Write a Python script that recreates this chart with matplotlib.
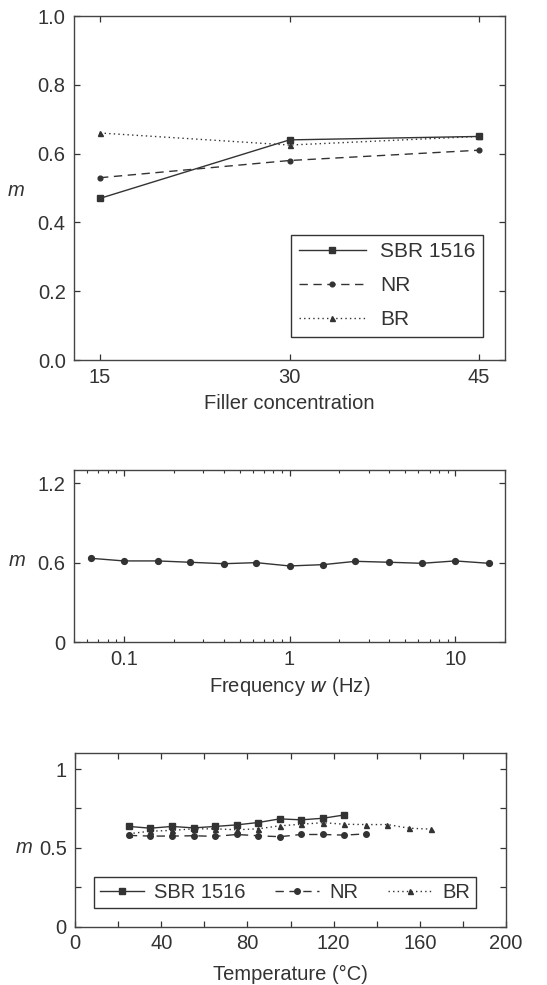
import numpy as np
import matplotlib
matplotlib.use("Agg")
import matplotlib.pyplot as plt
from matplotlib.ticker import FixedLocator, FuncFormatter, LogLocator, NullFormatter

# ---- data -------------------------------------------------------------
filler_conc = [15, 30, 45]
filler_sbr = [0.47, 0.64, 0.65]
filler_nr = [0.53, 0.58, 0.61]
filler_br = [0.66, 0.625, 0.65]

freq_hz = [0.063, 0.1, 0.16, 0.25, 0.4, 0.63, 1.0, 1.6, 2.5, 4.0, 6.3, 10.0, 16.0]
freq_m = [0.633, 0.613, 0.613, 0.603, 0.592, 0.600, 0.575, 0.585, 0.610, 0.603,
          0.595, 0.613, 0.595]

temp_sbr = [25, 35, 45, 55, 65, 75, 85, 95, 105, 115, 125]
m_temp_sbr = [0.636, 0.625, 0.636, 0.627, 0.636, 0.646, 0.661, 0.684, 0.678, 0.688, 0.709]
temp_nr = [25, 35, 45, 55, 65, 75, 85, 95, 105, 115, 125, 135]
m_temp_nr = [0.579, 0.575, 0.575, 0.577, 0.573, 0.585, 0.577, 0.571, 0.585, 0.585,
             0.581, 0.589]
temp_br = [25, 35, 45, 55, 65, 75, 85, 95, 105, 115, 125, 135, 145, 155, 165]
m_temp_br = [0.590, 0.606, 0.611, 0.621, 0.621, 0.615, 0.621, 0.640, 0.650, 0.660,
             0.650, 0.648, 0.648, 0.625, 0.619]

series_names = ["SBR 1516", "NR", "BR"]

# ---- style ------------------------------------------------------------
INK = "#333333"
FS = 14.5
plt.rcParams["font.family"] = ["Liberation Sans", "DejaVu Sans"]
plt.rcParams["font.size"] = FS
plt.rcParams["text.color"] = INK
plt.rcParams["axes.labelcolor"] = INK
plt.rcParams["xtick.color"] = INK
plt.rcParams["ytick.color"] = INK
plt.rcParams["axes.edgecolor"] = "#444444"
plt.rcParams["axes.linewidth"] = 1.0

LW = 1.0
solid = dict(color=INK, lw=LW, ls="-", marker="s", ms=4.2)
dashed = dict(color=INK, lw=LW, ls=(0, (6, 4)), marker="o", ms=3.4)
dotted = dict(color=INK, lw=LW, ls=(0, (1, 2.3)), marker="^", ms=3.6)


def style_axes(ax):
    ax.tick_params(which="both", direction="in", top=True, right=True)
    ax.tick_params(which="major", length=4.5, width=0.9, pad=6, labelsize=FS)
    ax.tick_params(which="minor", length=2.5, width=0.8)


fig = plt.figure(figsize=(5.47, 9.85), dpi=100)

# ---- filler concentration --------------------------------------------
ax1 = fig.add_axes([0.1353, 0.6345, 0.788, 0.3492])
ax1.plot(filler_conc, filler_sbr, label=series_names[0], **solid)
ax1.plot(filler_conc, filler_nr, label=series_names[1], **dashed)
ax1.plot(filler_conc, filler_br, label=series_names[2], **dotted)
ax1.set_xlim(12.94, 47.06)
ax1.set_ylim(0, 1.0)
ax1.set_xticks(filler_conc)
ax1.set_yticks(np.arange(0, 1.01, 0.2))
ax1.yaxis.set_major_formatter(FuncFormatter(lambda v, p: f"{v:.1f}"))
style_axes(ax1)
ax1.set_xlabel("Filler concentration", va="center")
ax1.xaxis.set_label_coords(0.5, -0.125)
ax1.set_ylabel("m", style="italic", rotation=0, va="center", ha="center")
ax1.yaxis.set_label_coords(-0.135, 0.494)
leg1 = ax1.legend(loc="lower right", bbox_to_anchor=(0.949, 0.067), borderaxespad=0,
                  fancybox=False, framealpha=1, edgecolor="#333333",
                  handlelength=3.2, handletextpad=0.7, labelspacing=0.72,
                  borderpad=0.36, fontsize=15)
leg1.get_frame().set_linewidth(1.0)

# ---- frequency -------------------------------------------------------
ax2 = fig.add_axes([0.1353, 0.3482, 0.788, 0.1746])
ax2.plot(freq_hz, freq_m, color=INK, lw=LW, marker="o", ms=4.2)
ax2.set_xscale("log")
ax2.set_xlim(0.05, 20)
ax2.set_ylim(0, 1.3)
ax2.xaxis.set_major_locator(FixedLocator([0.1, 1, 10]))
ax2.xaxis.set_major_formatter(FuncFormatter(lambda v, p: f"{v:g}"))
ax2.xaxis.set_minor_locator(LogLocator(base=10, subs=np.arange(2, 10)))
ax2.xaxis.set_minor_formatter(NullFormatter())
ax2.set_yticks([0, 0.6, 1.2])
ax2.yaxis.set_major_formatter(FuncFormatter(lambda v, p: f"{v:g}"))
style_axes(ax2)
ax2.set_xlabel("Frequency $\\mathit{w}$ (Hz)", va="center")
ax2.xaxis.set_label_coords(0.5, -0.256)
ax2.set_ylabel("m", style="italic", rotation=0, va="center", ha="center")
ax2.yaxis.set_label_coords(-0.132, 0.475)

# ---- temperature -----------------------------------------------------
ax3 = fig.add_axes([0.1371, 0.0592, 0.788, 0.176])
ax3.plot(temp_sbr, m_temp_sbr, label=series_names[0], **dict(solid, ms=4.6))
ax3.plot(temp_nr, m_temp_nr, label=series_names[1], **dict(dashed, ms=4))
ax3.plot(temp_br, m_temp_br, label=series_names[2], **dotted)
ax3.set_xlim(0, 200)
ax3.set_ylim(0, 1.1)
ax3.set_xticks(np.arange(0, 201, 20))
ax3.xaxis.set_major_formatter(FuncFormatter(lambda v, p: f"{v:.0f}" if round(v) % 40 == 0 else ""))
ax3.set_yticks([0, 0.25, 0.5, 0.75, 1.0])
ax3.yaxis.set_major_formatter(FuncFormatter(lambda v, p: f"{v:g}" if round(v * 4) % 2 == 0 else ""))
style_axes(ax3)
ax3.tick_params(axis="x", which="major", pad=5)
ax3.set_xlabel("Temperature (°C)", va="center")
ax3.xaxis.set_label_coords(0.5, -0.277)
ax3.set_ylabel("m", style="italic", rotation=0, va="center", ha="center")
ax3.yaxis.set_label_coords(-0.118, 0.4545)
leg3 = ax3.legend(loc="lower left", bbox_to_anchor=(0.044, 0.106), borderaxespad=0,
                  ncol=3, fancybox=False, framealpha=1, edgecolor="#333333",
                  handlelength=2.2, handletextpad=0.5, columnspacing=1.45,
                  borderpad=0.3, fontsize=FS)
leg3.get_frame().set_linewidth(1.0)

fig.savefig("out.png", dpi=100)
